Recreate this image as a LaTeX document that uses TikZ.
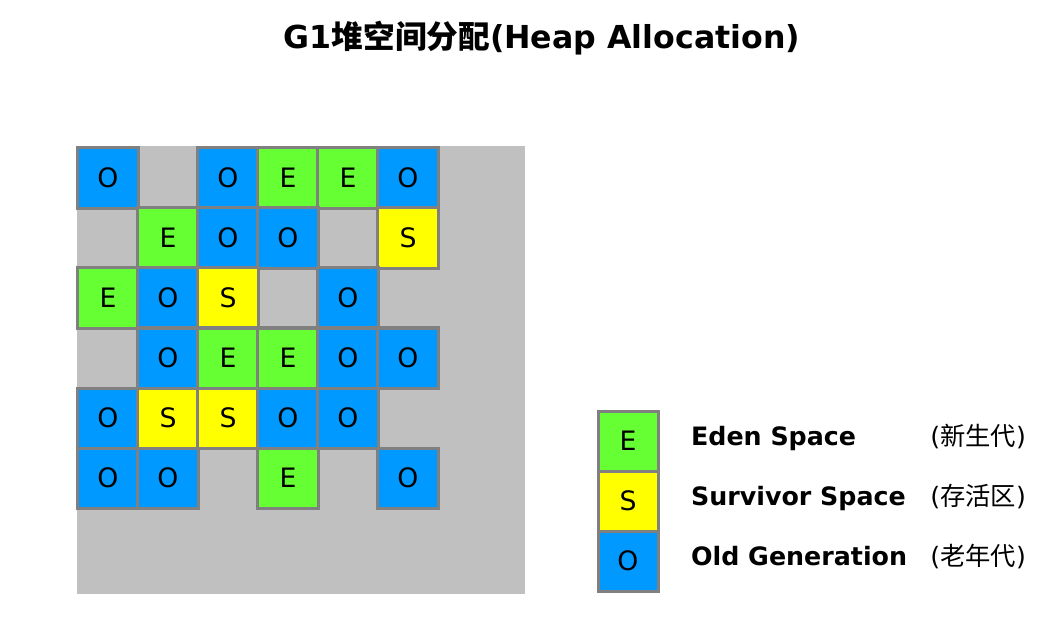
\documentclass[tikz,border=0pt]{standalone}
\usepackage{fontspec}
\setmainfont{DejaVu Sans}
\newfontfamily\cjk{Noto Sans CJK SC}
\usetikzlibrary{positioning}
\definecolor{edengreen}{HTML}{66FF33}
\definecolor{survyellow}{HTML}{FFFF00}
\definecolor{oldblue}{HTML}{0099FF}
\definecolor{heapgrey}{HTML}{C0C0C0}
\definecolor{edgegrey}{HTML}{808080}

\begin{document}
\begin{tikzpicture}[x=0.025cm, y=-0.025cm]
    \tikzset{
        region/.style={rectangle, draw=edgegrey, line width=0.075cm, minimum size=1.5cm,
                      inner sep=0pt, outer sep=0pt, text height=13.9pt, text depth=0pt,
                      font=\fontsize{19}{22}\selectfont},
        eden/.style={region, fill=edengreen},
        surv/.style={region, fill=survyellow},
        old/.style={region, fill=oldblue},
        legtext/.style={inner sep=0pt, text height=13.1pt, text depth=0pt, yshift=0.13cm}
    }
    \useasboundingbox (0,0) rectangle (1064,626);
    \node[font=\bfseries\fontsize{22.5}{26}\selectfont] (title) at (542,38)
        {G1{\cjk 堆空间分配}(Heap Allocation)};
    \fill[heapgrey] (77,146) rectangle (525,594);
    % heap regions, row by row
    \node[old]  (r1c1) at (108,178) {O};
    \node[old]  (r1c3) at (228,178) {O};
    \node[eden] (r1c4) at (288,178) {E};
    \node[eden] (r1c5) at (348,178) {E};
    \node[old]  (r1c6) at (408,178) {O};
    \node[eden] (r2c2) at (168,238) {E};
    \node[old]  (r2c3) at (228,238) {O};
    \node[old]  (r2c4) at (288,238) {O};
    \node[surv] (r2c6) at (408,238) {S};
    \node[eden] (r3c1) at (108,298) {E};
    \node[old]  (r3c2) at (168,298) {O};
    \node[surv] (r3c3) at (228,298) {S};
    \node[old]  (r3c5) at (348,298) {O};
    \node[old]  (r4c2) at (168,358) {O};
    \node[eden] (r4c3) at (228,358) {E};
    \node[eden] (r4c4) at (288,358) {E};
    \node[old]  (r4c5) at (348,358) {O};
    \node[old]  (r4c6) at (408,358) {O};
    \node[old]  (r5c1) at (108,418) {O};
    \node[surv] (r5c2) at (168,418) {S};
    \node[surv] (r5c3) at (228,418) {S};
    \node[old]  (r5c4) at (288,418) {O};
    \node[old]  (r5c5) at (348,418) {O};
    \node[old]  (r6c1) at (108,478) {O};
    \node[old]  (r6c2) at (168,478) {O};
    \node[eden] (r6c4) at (288,478) {E};
    \node[old]  (r6c6) at (408,478) {O};
    % legend
    \node[eden] (legE) at (628,441) {E};
    \node[surv, below=0pt of legE] (legS) {S};
    \node[old, below=0pt of legS] (legO) {O};
    \node[legtext, font=\bfseries\fontsize{18}{22}\selectfont, right=0.82cm of legE] (edenname) {Eden Space};
    \node[legtext, font=\bfseries\fontsize{18}{22}\selectfont, right=0.82cm of legS] (survname) {Survivor Space};
    \node[legtext, font=\bfseries\fontsize{18}{22}\selectfont, right=0.82cm of legO] (oldname) {Old Generation};
    \node[legtext, font=\fontsize{18}{22}\selectfont, right=6.8cm of legE] (edencn) {({\cjk 新生代})};
    \node[legtext, font=\fontsize{18}{22}\selectfont, right=6.8cm of legS] (survcn) {({\cjk 存活区})};
    \node[legtext, font=\fontsize{18}{22}\selectfont, right=6.8cm of legO] (oldcn) {({\cjk 老年代})};
\end{tikzpicture}
\end{document}
